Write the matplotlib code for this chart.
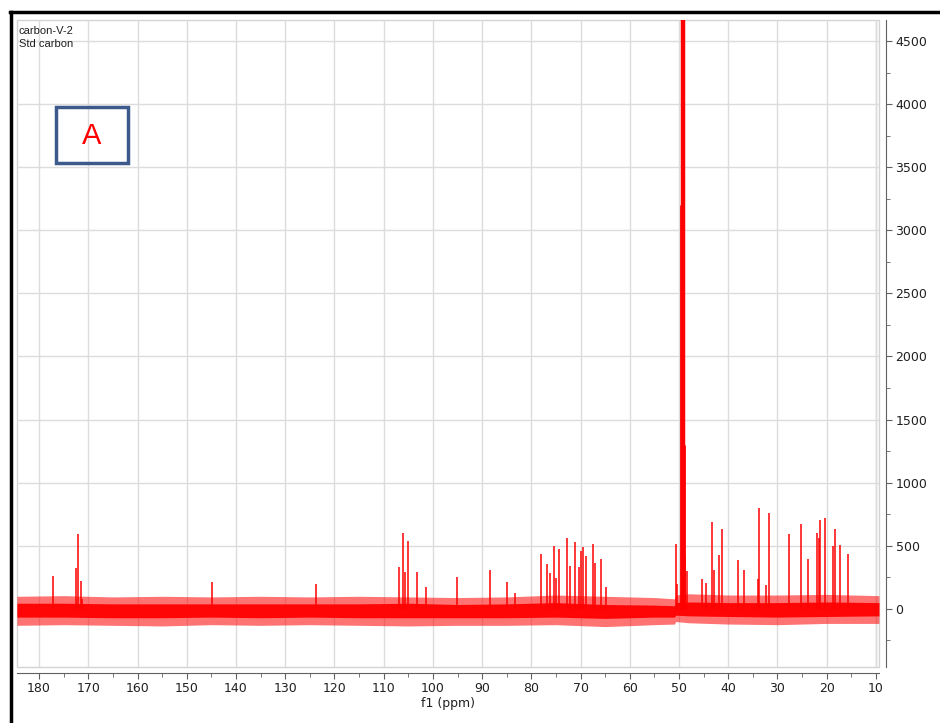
import numpy as np
import matplotlib.pyplot as plt
from matplotlib.patches import Rectangle
from matplotlib.lines import Line2D
from matplotlib.ticker import MultipleLocator

# peak positions (ppm) and heights
peak_ppm = [177.2, 172.5, 172.1, 171.4, 171.2, 144.8, 123.7,
            106.9, 106.1, 105.6, 105.1, 103.2, 101.5, 95.2, 88.3, 85.0, 83.4,
            78.0, 76.9, 76.2, 75.5, 74.9, 74.3, 72.7, 72.2, 71.1, 70.4, 70.0,
            69.6, 69.0, 67.5, 67.0, 65.9, 64.9,
            50.6, 50.4, 48.7, 48.3, 45.4, 44.6, 43.3, 42.8, 41.8, 41.3, 38.0,
            36.9, 34.0, 33.7, 32.4, 31.7, 27.6, 25.3, 23.8, 21.9, 21.6, 21.3,
            20.4, 18.8, 18.4, 17.3, 15.6]
peak_height = [260, 325, 590, 220, 80, 215, 195,
               335, 600, 295, 540, 290, 175, 250, 310, 215, 130,
               435, 355, 285, 500, 245, 475, 560, 340, 530, 335, 455,
               490, 420, 515, 360, 395, 175,
               515, 200, 415, 300, 240, 205, 685, 305, 430, 630, 390,
               305, 240, 800, 190, 760, 590, 670, 395, 600, 560, 705,
               720, 500, 630, 510, 435]

# solvent peak (CD3OD), runs off the top of the scale
solvent_ppm = [49.6, 49.4, 49.2, 49.0]
solvent_height = [3200, 5200, 5200, 1300]

# baseline noise envelope (outer spikes and dense core)
noise_ppm = [184.5, 175, 165, 155, 145, 135, 125, 115, 105, 95, 85, 75, 65, 55, 50.9,
             50.7, 48, 40, 30, 20, 9.4]
noise_hi = [100, 105, 95, 100, 95, 100, 95, 100, 95, 90, 95, 110, 100, 90, 80,
            110, 120, 110, 110, 115, 105]
noise_lo = [-130, -125, -130, -135, -125, -130, -125, -130, -135, -130, -130, -125, -140, -125, -120,
            -100, -110, -120, -125, -115, -115]
core_hi = [45, 45, 40, 40, 40, 40, 40, 40, 45, 35, 40, 50, 35, 30, 25,
           50, 55, 50, 50, 55, 50]
core_lo = [-65, -65, -70, -70, -65, -70, -65, -70, -70, -70, -70, -65, -75, -65, -65,
           -50, -55, -60, -65, -60, -55]

fig = plt.figure(figsize=(9.4, 7.23), dpi=100)
ax = fig.add_axes([0.018, 0.0775, 0.917, 0.8948])

red = '#ff0000'
ax.fill_between(noise_ppm, noise_lo, noise_hi, color=red, alpha=0.55, lw=0)
ax.fill_between(noise_ppm, core_lo, core_hi, color=red, alpha=0.95, lw=0)
ax.vlines(peak_ppm, 0, peak_height, color=red, lw=1.1)
ax.vlines(solvent_ppm, 0, solvent_height, color=red, lw=[2, 2.5, 2.5, 2])

ax.set_xlim(184.5, 9.4)
ax.set_ylim(-460, 4666)

ax.xaxis.set_major_locator(MultipleLocator(10))
ax.xaxis.set_minor_locator(MultipleLocator(5))
ax.yaxis.set_major_locator(MultipleLocator(500))
ax.yaxis.set_minor_locator(MultipleLocator(250))
ax.yaxis.tick_right()
ax.grid(True, which='major', color='#dcdcdc', lw=1)
ax.set_axisbelow(True)

for s in ['top', 'left']:
    ax.spines[s].set_visible(False)
ax.spines['bottom'].set_position(('outward', 4))
ax.spines['right'].set_position(('outward', 5))
ax.spines['bottom'].set_color('#606060')
ax.spines['right'].set_color('#606060')
ax.add_patch(Rectangle((0, 0), 1, 1, transform=ax.transAxes, fill=False,
                       ec='#d4d4d4', lw=1, clip_on=False, zorder=0))
ax.axvline(9.9, color='#d4d4d4', lw=1, zorder=0)

ax.tick_params(which='major', length=4, color='#606060', labelsize=9,
               labelcolor='#202020', pad=3)
ax.tick_params(which='minor', length=3, color='#606060')
ax.set_xlabel('f1 (ppm)', fontsize=9, labelpad=1, color='#202020')

ax.text(0.002, 0.99, 'carbon-V-2\nStd carbon', transform=ax.transAxes, fontsize=8,
        va='top', ha='left', family='Liberation Sans', linespacing=1.35, color='#202020')

fig.patches.append(Rectangle((56 / 940, 1 - 163 / 723), 72 / 940, 56 / 723,
                             transform=fig.transFigure, fill=False, ec='#3d5a8c', lw=2.5))
fig.text(92 / 940, 1 - 136 / 723, 'A', color=red, fontsize=21, ha='center', va='center',
         family='Liberation Sans')

# frame of the screenshot
fig.add_artist(Line2D([11 / 940, 11 / 940], [0, 1 - 12 / 723], color='black', lw=2.5,
                      transform=fig.transFigure))
fig.add_artist(Line2D([10 / 940, 1], [1 - 12 / 723, 1 - 12 / 723], color='black', lw=2.5,
                      transform=fig.transFigure))

fig.savefig('out.png', dpi=100)
